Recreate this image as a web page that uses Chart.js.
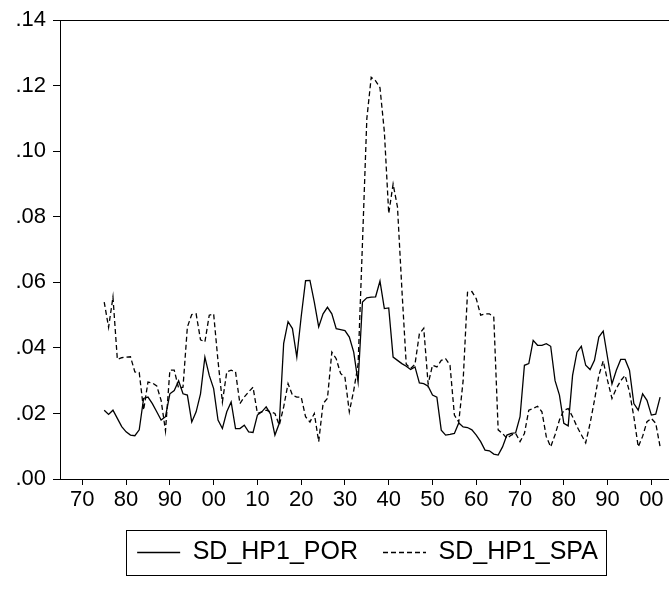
<!DOCTYPE html>
<html>
<head>
<meta charset="utf-8">
<script src="https://cdn.jsdelivr.net/npm/chart.js@4.4.1/dist/chart.umd.min.js"></script>
<style>
  html, body { margin: 0; padding: 0; background: #fff; overflow: hidden; }
  #wrap { width: 680px; height: 589px; }
</style>
</head>
<body>
<div id="wrap"><canvas id="myChart"></canvas></div>
<script>
// annual observations, first year 1875
const startYear = 1875;

const sdHp1Por = [
  0.021, 0.0197, 0.021, 0.0185, 0.016, 0.0144, 0.0134, 0.0132, 0.015, 0.0246,   // 1875-1884
  0.025, 0.023, 0.0205, 0.018, 0.019, 0.026, 0.027, 0.030, 0.026, 0.0256,        // 1885-1894
  0.0174, 0.0205, 0.026, 0.0372, 0.0316, 0.0276, 0.018, 0.0154, 0.0205, 0.0235,  // 1895-1904
  0.0154, 0.0154, 0.0164, 0.0144, 0.0142, 0.0195, 0.0205, 0.022, 0.0198, 0.0134, // 1905-1914
  0.017, 0.0414, 0.048, 0.0459, 0.0372, 0.0495, 0.0605, 0.0606, 0.054, 0.0464,   // 1915-1924
  0.0504, 0.0524, 0.0504, 0.0459, 0.0456, 0.0453, 0.0433, 0.0387, 0.0296, 0.054, // 1925-1934
  0.0553, 0.0555, 0.0556, 0.0604, 0.052, 0.0522, 0.0372, 0.0362, 0.0352, 0.0344, // 1935-1944
  0.0334, 0.0342, 0.0293, 0.0291, 0.0283, 0.0256, 0.025, 0.0149, 0.0134, 0.0136, // 1945-1954
  0.0139, 0.0171, 0.0159, 0.0157, 0.015, 0.0134, 0.0114, 0.0088, 0.0086, 0.0076, // 1955-1964
  0.0073, 0.0098, 0.0134, 0.0139, 0.0141, 0.019, 0.0347, 0.0352, 0.0423, 0.0408, // 1965-1974
  0.0408, 0.0413, 0.0405, 0.030, 0.0256, 0.017, 0.0162, 0.0316, 0.0387, 0.0405,  // 1975-1984
  0.0347, 0.0334, 0.0362, 0.0433, 0.0451, 0.037, 0.029, 0.0332, 0.0365, 0.0365,  // 1985-1994
  0.0332, 0.023, 0.021, 0.026, 0.024, 0.0195, 0.0198, 0.025                      // 1995-2002
];

const sdHp1Spa = [
  0.054, 0.0463, 0.0555, 0.0365, 0.037, 0.0372, 0.0373, 0.0327, 0.0325, 0.021,   // 1875-1884
  0.0296, 0.0293, 0.0284, 0.024, 0.0147, 0.0332, 0.0332, 0.0277, 0.028, 0.0464,  // 1885-1894
  0.0502, 0.0504, 0.0425, 0.0418, 0.050, 0.0504, 0.036, 0.0235, 0.0327, 0.0332,  // 1895-1904
  0.0327, 0.023, 0.025, 0.0266, 0.028, 0.020, 0.0205, 0.021, 0.0205, 0.020,      // 1905-1914
  0.0164, 0.022, 0.0291, 0.0256, 0.025, 0.025, 0.019, 0.0174, 0.020, 0.0114,     // 1915-1924
  0.023, 0.0246, 0.0387, 0.0367, 0.0322, 0.031, 0.0205, 0.027, 0.035, 0.072,     // 1925-1934
  0.110, 0.1226, 0.1215, 0.1194, 0.106, 0.081, 0.090, 0.083, 0.058, 0.035,       // 1935-1944
  0.0337, 0.035, 0.0443, 0.046, 0.029, 0.0347, 0.0342, 0.0362, 0.0367, 0.0347,   // 1945-1954
  0.0195, 0.0174, 0.030, 0.057, 0.0572, 0.055, 0.050, 0.0504, 0.0504, 0.0494,    // 1955-1964
  0.015, 0.0139, 0.0124, 0.0134, 0.0139, 0.0114, 0.0139, 0.021, 0.0215, 0.0222,  // 1965-1974
  0.0205, 0.0129, 0.0098, 0.0135, 0.018, 0.021, 0.0215, 0.019, 0.016, 0.0135,    // 1975-1984
  0.011, 0.017, 0.024, 0.0316, 0.036, 0.030, 0.0246, 0.0276, 0.030, 0.0316,      // 1985-1994
  0.0266, 0.019, 0.0098, 0.013, 0.0175, 0.0185, 0.017, 0.0098                    // 1995-2002
];

const xTickYears = [1870, 1880, 1890, 1900, 1910, 1920, 1930, 1940, 1950, 1960, 1970, 1980, 1990, 2000];
const xTickLabels = ['70', '80', '90', '00', '10', '20', '30', '40', '50', '60', '70', '80', '90', '00'];
const yTickValues = [0, 0.02, 0.04, 0.06, 0.08, 0.10, 0.12, 0.14];
const yTickLabels = ['.00', '.02', '.04', '.06', '.08', '.10', '.12', '.14'];

const toPoints = arr => arr.map((v, i) => ({ x: startYear + i, y: v }));

const FONT = "'Liberation Sans', Arial, sans-serif";

// box round the plot area
const framePlugin = {
  id: 'frame',
  beforeDatasetsDraw(chart) {
    const a = chart.chartArea;
    const ctx = chart.ctx;
    ctx.save();
    ctx.strokeStyle = '#000';
    ctx.lineWidth = 1;
    ctx.strokeRect(Math.round(a.left) + 0.5, Math.round(a.top) + 0.5, Math.round(a.right - a.left), Math.round(a.bottom - a.top));
    ctx.restore();
  }
};

// legend centred under the plot area, with a box round it
const legendBoxPlugin = {
  id: 'legendBox',
  afterUpdate(chart) {
    const lg = chart.legend;
    if (!lg || !lg.legendHitBoxes) return;
    const shift = ((chart.chartArea.left + chart.chartArea.right) - (lg.left + lg.right)) / 2;
    lg.left += shift;
    lg.right += shift;
    lg.legendHitBoxes.forEach(h => { h.left += shift; });
  },
  afterDraw(chart) {
    const hb = chart.legend && chart.legend.legendHitBoxes;
    if (!hb || !hb.length) return;
    const first = hb[0], last = hb[hb.length - 1];
    const l = Math.round(first.left - 11) + 0.5;
    const r = Math.round(last.left + last.width + 8) + 0.5;
    const t = Math.round(first.top - 10) + 0.5;
    const b = Math.round(first.top + first.height + 10) + 0.5;
    const ctx = chart.ctx;
    ctx.save();
    ctx.strokeStyle = '#000';
    ctx.lineWidth = 1;
    ctx.setLineDash([]);
    ctx.strokeRect(l, t, r - l, b - t);
    ctx.restore();
  }
};

const config = {
  type: 'line',
  data: {
    datasets: [{
      label: 'SD_HP1_POR',
      data: toPoints(sdHp1Por),
      borderColor: '#000',
      backgroundColor: '#000',
      borderWidth: 1.3,
      pointRadius: 0,
      tension: 0,
      fill: false
    }, {
      label: 'SD_HP1_SPA',
      data: toPoints(sdHp1Spa),
      borderColor: '#000',
      backgroundColor: '#000',
      borderWidth: 1.3,
      borderDash: [5, 3],
      pointRadius: 0,
      tension: 0,
      fill: false
    }]
  },
  options: {
    responsive: true,
    maintainAspectRatio: false,
    animation: false,
    layout: { padding: { top: 19, right: 5, bottom: 14, left: 0 } },
    plugins: {
      tooltip: { enabled: false },
      legend: {
        position: 'bottom',
        labels: {
          usePointStyle: true,
          pointStyle: 'line',
          pointStyleWidth: 43,
          padding: 25,
          color: '#000',
          font: { family: FONT, size: 25 },
          generateLabels: chart => {
            const items = Chart.defaults.plugins.legend.labels.generateLabels(chart);
            items.forEach(it => {
              const ds = chart.data.datasets[it.datasetIndex];
              it.lineDash = ds.borderDash || [];
              it.lineWidth = ds.borderWidth;
              it.strokeStyle = ds.borderColor;
            });
            return items;
          }
        }
      }
    },
    scales: {
      x: {
        type: 'linear',
        min: 1864.9,
        max: 2005.4,
        afterBuildTicks: s => { s.ticks = xTickYears.map(v => ({ value: v })); },
        afterFit: s => { s.height = 36; },
        grid: { display: true, drawOnChartArea: false, drawTicks: true, tickLength: 6, color: '#000' },
        border: { display: true, color: '#000' },
        ticks: {
          autoSkip: false,
          maxRotation: 0,
          padding: 2,
          color: '#000',
          font: { family: FONT, size: 22 },
          callback: (v, i) => xTickLabels[i]
        }
      },
      y: {
        min: 0,
        max: 0.14,
        afterBuildTicks: s => { s.ticks = yTickValues.map(v => ({ value: v })); },
        afterFit: s => { s.width = 60; },
        grid: { display: true, drawOnChartArea: false, drawTicks: true, tickLength: 7, color: '#000' },
        border: { display: true, color: '#000' },
        ticks: {
          padding: 7,
          color: '#000',
          font: { family: FONT, size: 22 },
          callback: (v, i) => yTickLabels[i]
        }
      }
    }
  },
  plugins: [framePlugin, legendBoxPlugin]
};

const myChart = new Chart(document.getElementById('myChart'), config);
</script>
</body>
</html>
